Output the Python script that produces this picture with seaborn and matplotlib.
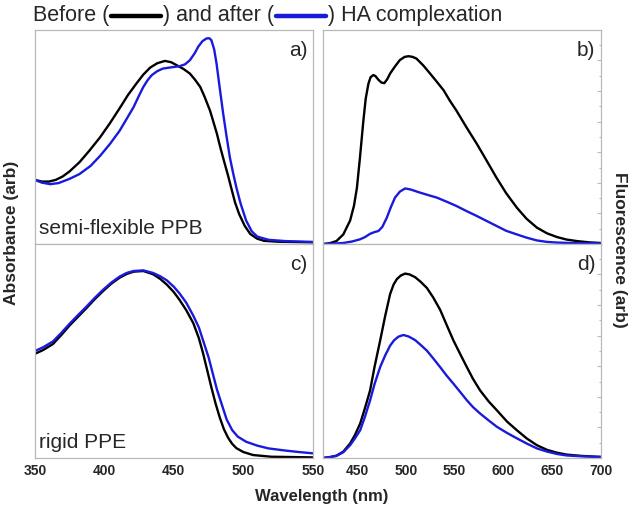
import matplotlib
matplotlib.use("Agg")
import matplotlib.pyplot as plt
from matplotlib.lines import Line2D
from matplotlib.ticker import MultipleLocator
import seaborn as sns

# a) semi-flexible PPB absorbance
wl_a_before = [350, 355, 360, 365, 370, 375, 382, 389, 397, 404, 411, 417, 423, 428, 433, 438, 443.5,
               448, 452, 457, 461.5, 465, 469, 472, 476, 478.5, 481, 483.5, 486, 489, 491.5, 494,
               497, 501, 505, 510, 515, 525, 550]
abs_a_before = [0.300, 0.292, 0.292, 0.300, 0.316, 0.340, 0.382, 0.435, 0.500, 0.565, 0.635, 0.697,
                0.750, 0.792, 0.825, 0.845, 0.856, 0.850, 0.836, 0.818, 0.797, 0.770, 0.734, 0.690,
                0.624, 0.570, 0.515, 0.450, 0.390, 0.320, 0.257, 0.195, 0.140, 0.085, 0.047, 0.025,
                0.015, 0.011, 0.008]
wl_a_after = [350, 355, 361, 367, 375, 382, 390, 397, 404, 411, 416, 421, 425, 428, 431, 434, 438,
              442, 448, 454, 458, 461.5, 465, 467.5, 470.5, 473.5, 475.5, 477, 479, 480.7, 483,
              485.5, 488, 490.3, 492.7, 495, 498, 502, 506, 510, 518, 530, 550]
abs_a_after = [0.300, 0.287, 0.280, 0.285, 0.305, 0.327, 0.365, 0.413, 0.468, 0.530, 0.585, 0.640,
               0.695, 0.734, 0.765, 0.789, 0.808, 0.820, 0.826, 0.831, 0.840, 0.859, 0.892, 0.922,
               0.948, 0.961, 0.962, 0.953, 0.910, 0.844, 0.730, 0.609, 0.500, 0.405, 0.330, 0.264,
               0.190, 0.110, 0.060, 0.035, 0.020, 0.014, 0.010]

# c) rigid PPE absorbance
wl_c = [350, 356, 363, 369, 375, 381, 387, 393, 399, 405, 411, 416, 421, 428, 435, 440, 445, 450,
        454, 459, 464, 468, 471, 474, 477, 480, 483, 486, 489, 492, 495, 500, 507, 520, 550]
abs_c_before = [0.487, 0.505, 0.533, 0.575, 0.620, 0.660, 0.700, 0.742, 0.780, 0.815, 0.843, 0.860,
                0.871, 0.874, 0.859, 0.838, 0.810, 0.775, 0.740, 0.690, 0.630, 0.560, 0.490, 0.410,
                0.330, 0.255, 0.190, 0.135, 0.095, 0.066, 0.046, 0.028, 0.014, 0.006, 0.003]
wl_c_after = [350, 356, 363, 369, 375, 381, 387, 393, 399, 405, 411, 416, 421, 428, 435, 440, 445,
              450, 454, 459, 464, 468, 471, 475, 478, 481, 485, 488, 492, 496, 502, 510, 518, 530,
              540, 550]
abs_c_after = [0.500, 0.518, 0.545, 0.585, 0.628, 0.668, 0.707, 0.748, 0.786, 0.820, 0.848, 0.865,
               0.874, 0.877, 0.865, 0.850, 0.830, 0.800, 0.770, 0.725, 0.665, 0.610, 0.550, 0.470,
               0.395, 0.320, 0.240, 0.180, 0.130, 0.100, 0.076, 0.058, 0.045, 0.035, 0.028, 0.022]

# b) semi-flexible PPB fluorescence
wl_b_before = [415, 422, 429, 436, 443, 447, 450, 453, 456.6, 459, 461.8, 464, 466.9, 469, 472, 475,
               478, 481, 484, 489, 494, 499, 503, 507, 511, 518, 525, 532, 539, 545, 552, 562, 573,
               583, 593, 603, 614, 624, 634.5, 645, 655, 665, 675.5, 688, 700]
fl_b_before = [0.000, 0.004, 0.014, 0.045, 0.110, 0.180, 0.264, 0.400, 0.577, 0.680, 0.750, 0.780,
               0.790, 0.785, 0.768, 0.755, 0.752, 0.770, 0.797, 0.830, 0.860, 0.875, 0.878, 0.875,
               0.867, 0.835, 0.797, 0.758, 0.718, 0.672, 0.624, 0.548, 0.468, 0.390, 0.311, 0.238,
               0.170, 0.118, 0.077, 0.050, 0.033, 0.021, 0.014, 0.008, 0.005]
wl_b_after = [415, 425, 436, 445, 453, 458, 463.5, 468, 472, 476, 480.6, 485, 489, 494, 499.4, 505,
              515, 523, 532, 542, 552, 562, 573, 583, 593, 603, 614, 624, 634.5, 645, 655, 675, 700]
fl_b_after = [0.000, 0.002, 0.005, 0.012, 0.022, 0.032, 0.048, 0.056, 0.061, 0.080, 0.123, 0.175,
              0.217, 0.245, 0.260, 0.255, 0.240, 0.229, 0.217, 0.198, 0.178, 0.155, 0.131, 0.108,
              0.085, 0.062, 0.045, 0.030, 0.017, 0.010, 0.007, 0.004, 0.003]

# d) rigid PPE fluorescence
wl_d = [415, 422, 429, 436, 443, 448, 453.3, 458, 463.5, 468, 473.8, 479, 484, 487.5, 490.9, 495,
        499.4, 504, 509.7, 515, 521.7, 528, 535.3, 542, 549, 556, 562.7, 569, 576.3, 585, 593.5,
        604, 614, 624, 634.5, 645, 655, 665, 680, 700]
fl_d_before = [0.000, 0.004, 0.011, 0.030, 0.068, 0.108, 0.161, 0.230, 0.316, 0.425, 0.549, 0.665,
               0.766, 0.810, 0.836, 0.853, 0.862, 0.858, 0.845, 0.825, 0.795, 0.752, 0.693, 0.622,
               0.549, 0.485, 0.425, 0.370, 0.316, 0.265, 0.223, 0.170, 0.130, 0.092, 0.060, 0.038,
               0.025, 0.016, 0.010, 0.005]
wl_d_after = [415, 422, 429, 436, 443, 448, 453.3, 458, 463.5, 468, 473.8, 479, 484, 488, 492.5,
              497.6, 503, 509.7, 515, 521.7, 528, 535.3, 542, 549, 556, 562.7, 569, 576.3, 585,
              593.5, 604, 614, 624, 634.5, 645, 655, 665, 680, 700]
fl_d_after = [0.000, 0.004, 0.010, 0.027, 0.060, 0.092, 0.130, 0.190, 0.270, 0.345, 0.425, 0.480,
              0.525, 0.550, 0.567, 0.575, 0.568, 0.551, 0.530, 0.502, 0.467, 0.425, 0.385, 0.347,
              0.308, 0.270, 0.238, 0.208, 0.176, 0.146, 0.117, 0.092, 0.068, 0.045, 0.030, 0.019,
              0.012, 0.008, 0.005]

BLUE = "#1a1adc"
GRID = "#b8b8b8"

sns.set_style("white")
plt.rcParams["font.family"] = ["Liberation Sans", "DejaVu Sans"]

fig, axes = plt.subplots(2, 2, figsize=(6.35, 5.19), dpi=100)
fig.subplots_adjust(left=0.055, right=0.946, bottom=0.1175, top=0.942, wspace=0.036, hspace=0)

panels = [
    (axes[0, 0], wl_a_before, abs_a_before, wl_a_after, abs_a_after, "a)", "semi-flexible PPB"),
    (axes[0, 1], wl_b_before, fl_b_before, wl_b_after, fl_b_after, "b)", None),
    (axes[1, 0], wl_c, abs_c_before, wl_c_after, abs_c_after, "c)", "rigid PPE"),
    (axes[1, 1], wl_d, fl_d_before, wl_d_after, fl_d_after, "d)", None),
]

for i, (ax, x1, y1, x2, y2, tag, name) in enumerate(panels):
    sns.lineplot(x=x1, y=y1, ax=ax, color="black", lw=1.7)
    sns.lineplot(x=x2, y=y2, ax=ax, color=BLUE, lw=1.7)
    if i % 2 == 1:
        ax.set_xlim(415, 700)
        ax.yaxis.tick_right()
    else:
        ax.set_xlim(350, 550)
    ax.xaxis.set_major_locator(MultipleLocator(50))
    ax.xaxis.set_minor_locator(MultipleLocator(25))
    ax.set_ylim(0, 1)
    ax.yaxis.set_major_locator(MultipleLocator(0.143))
    ax.yaxis.set_minor_locator(MultipleLocator(0.0715))
    ax.set_yticklabels([])
    ax.tick_params(which="both", direction="in", color=GRID, width=0.8)
    ax.tick_params(which="major", length=3)
    ax.tick_params(which="minor", length=1.5)
    ax.tick_params(axis="x", labelsize=10, pad=4)
    for lab in ax.get_xticklabels():
        lab.set_fontweight("bold")
    if i < 2:
        ax.set_xticklabels([])
    for sp in ax.spines.values():
        sp.set_color(GRID)
        sp.set_linewidth(0.9)
    ax.set_xlabel("")
    ax.set_ylabel("")
    ax.text(0.98, 0.905, tag, transform=ax.transAxes, ha="right", va="center", fontsize=15)
    if name:
        ax.text(0.015, 0.073, name, transform=ax.transAxes, ha="left", va="center", fontsize=15)

fig.text(322 / 635, 1 - 497 / 519, "Wavelength (nm)", ha="center", va="center",
         fontsize=12, fontweight="bold")
fig.text(12 / 635, 1 - 233 / 519, "Absorbance (arb)", ha="center", va="center",
         rotation=90, fontsize=12.5, fontweight="bold")
fig.text(620 / 635, 1 - 250 / 519, "Fluorescence (arb)", ha="center", va="center",
         rotation=270, fontsize=12.5, fontweight="bold")

# header line: text pieces with drawn line samples between them
renderer = fig.canvas.get_renderer()
W = fig.bbox.width
ty = 1 - 16 / 519
xpos = 33
for piece, col in [("Before (", "black"), (") and after (", BLUE), (") HA complexation", None)]:
    t = fig.text(xpos / W, ty, piece, ha="left", va="center", fontsize=15.5)
    bb = t.get_window_extent(renderer)
    xpos = bb.x1 + 2
    if col:
        fig.add_artist(Line2D([xpos / W, (xpos + 50) / W], [ty, ty], color=col, lw=3.2,
                              transform=fig.transFigure))
        xpos += 52

fig.savefig("out.png", dpi=100)
